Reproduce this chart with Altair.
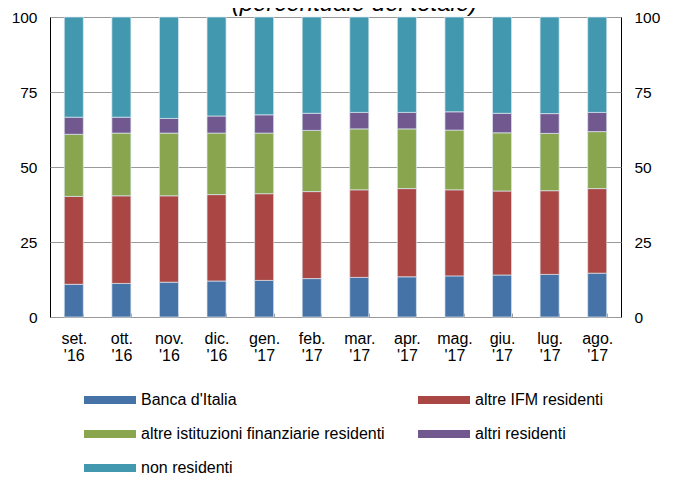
import altair as alt
import pandas as pd

months = ["set. '16", "ott. '16", "nov. '16", "dic. '16", "gen. '17", "feb. '17",
          "mar. '17", "apr. '17", "mag. '17", "giu. '17", "lug. '17", "ago. '17"]
series = ["Banca d'Italia", "altre IFM residenti",
          "altre istituzioni finanziarie residenti", "altri residenti", "non residenti"]
colors = ["#4572A7", "#AA4643", "#89A54E", "#71588F", "#4198AF"]

banca = [10.9, 11.2, 11.6, 12.0, 12.2, 12.8, 13.2, 13.4, 13.7, 14.0, 14.2, 14.6]
ifm = [29.3, 29.2, 28.8, 28.8, 28.9, 29.0, 29.2, 29.4, 28.7, 28.0, 27.9, 28.2]
altre_ist = [20.7, 20.9, 20.9, 20.5, 20.2, 20.4, 20.3, 19.9, 19.9, 19.4, 19.1, 19.0]
altri_res = [5.7, 5.3, 4.9, 5.7, 6.1, 5.7, 5.5, 5.5, 6.1, 6.5, 6.6, 6.4]
non_res = [33.4, 33.4, 33.8, 33.0, 32.6, 32.1, 31.8, 31.8, 31.6, 32.1, 32.2, 31.8]
y_ticks = [0, 25, 50, 75, 100]

values = [banca, ifm, altre_ist, altri_res, non_res]
rows = []
for si, (name, vals) in enumerate(zip(series, values)):
    for m, v in zip(months, vals):
        rows.append({"mese": m, "serie": name, "valore": v, "ordine": si})
df = pd.DataFrame(rows)

# legend is filled column by column: order so that rows read as in the reference
legend_order = [0, 2, 4, 1, 3]
leg_domain = [series[i] for i in legend_order]
leg_range = [colors[i] for i in legend_order]

FONT = "Liberation Sans"

xscale = alt.Scale(domain=months, paddingInner=0.6, paddingOuter=0.3)
yscale = alt.Scale(domain=[0, 100], nice=False)

bars = alt.Chart(df).mark_bar(stroke="#dce8f0", strokeWidth=0.7).encode(
    x=alt.X("mese:N", sort=months, scale=xscale,
            axis=alt.Axis(title=None, labelAngle=0,
                          labelExpr="isValid(datum.value) ? split(datum.value, ' ') : ''",
                          tickBand="extent", offset=-4, tickSize=4, tickColor="#999999",
                          tickWidth=1, domain=False, labelPadding=13, labelFontSize=16,
                          labelLineHeight=17, labelFont=FONT, labelColor="#000000",
                          grid=False)),
    y=alt.Y("valore:Q", stack="zero", scale=yscale,
            axis=alt.Axis(title=None, orient="left", values=y_ticks, ticks=False,
                          domain=False, labelPadding=13, labelFontSize=15.5, labelFont=FONT,
                          labelColor="#000000", grid=True, gridColor="#999999",
                          gridWidth=1)),
    color=alt.Color("serie:N", scale=alt.Scale(domain=leg_domain, range=leg_range),
                    legend=alt.Legend(title=None, orient="none", legendX=34, legendY=357,
                                      columns=2, columnPadding=33, rowPadding=0,
                                      symbolType="M-1,-0.154L1,-0.154L1,0.154L-1,0.154Z",
                                      symbolSize=2704, symbolStrokeWidth=0, symbolOpacity=1,
                                      labelFontSize=16, labelFont=FONT, labelColor="#000000",
                                      labelOffset=5, labelLimit=400, padding=0)),
    order=alt.Order("ordine:Q", sort="ascending"),
)

right = alt.Chart(df).mark_bar(opacity=0).encode(
    x=alt.X("mese:N", sort=months, scale=xscale, axis=None),
    y=alt.Y("valore:Q", stack="zero", scale=yscale,
            axis=alt.Axis(title=None, orient="right", values=y_ticks, ticks=False,
                          domain=False, labelPadding=13, labelFontSize=15.5, labelFont=FONT,
                          labelColor="#000000", grid=False)),
)

chart = alt.layer(bars, right).resolve_axis(x="independent", y="independent").properties(
    width=571, height=300,
    title=alt.TitleParams("(percentuale del totale)", fontSize=24, fontStyle="italic",
                          fontWeight="normal", font=FONT, anchor="middle", dx=19, dy=9,
                          offset=3, color="#000000"),
    autosize=alt.AutoSizeParams(type="none"),
    padding={"left": 42, "top": 9, "right": 49, "bottom": 159},
).configure_view(stroke="#000000", strokeWidth=1)

chart.save("out.html", embed_options={"renderer": "svg", "actions": False})
